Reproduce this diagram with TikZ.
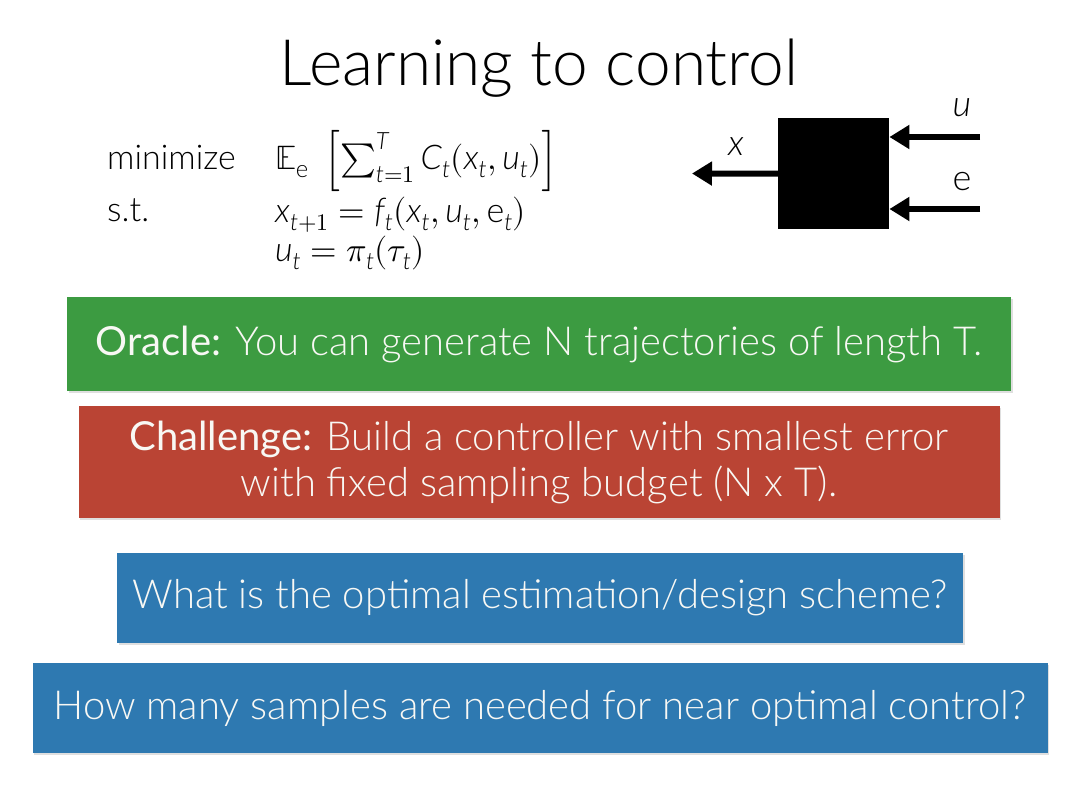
\documentclass[tikz,border=0pt]{standalone}
\usepackage{fontspec}
\usepackage{unicode-math}
\setmainfont{Lato}
\newfontfamily\thinfont{Lato Light}
\setmathfont{Latin Modern Math}
\setmathfont[range={it/{Latin,latin}}]{Lato Light Italic}
\setmathrm{Lato Light}
\usetikzlibrary{positioning,arrows.meta,shadows}

\definecolor{oraclegreen}{RGB}{60,155,65}
\definecolor{challengered}{RGB}{186,68,52}
\definecolor{questionblue}{RGB}{46,121,177}
\definecolor{slidewhite}{RGB}{248,248,244}

\tikzset{
  slidebox/.style={fill=#1, text=slidewhite, inner sep=0pt, align=center,
    drop shadow={shadow xshift=1.5pt, shadow yshift=-1.5pt, opacity=0.25},
    font=\thinfont\fontsize{40}{46}\selectfont},
  formula/.style={anchor=base west, inner sep=0pt, font=\thinfont\fontsize{34}{40}\selectfont},
  wire/.style={line width=6pt, -{Triangle[length=20pt,width=23pt]}},
  pinlabel/.style={inner sep=0pt, font=\thinfont\fontsize{36}{40}\selectfont},
}

\begin{document}
\begin{tikzpicture}[x=1pt, y=-1pt]
	\useasboundingbox (0,0) rectangle (1080,809);

	% title
	\node[inner sep=0pt, anchor=base, font=\thinfont\fontsize{64}{74}\selectfont] (title) at (539,85) {Learning to control};

	% problem statement
	\node[formula] (minlabel) at (107,169) {minimize};
	\node[formula] (stlabel) at (107,221) {s.t.};
	\node[formula] (objective) at (275,169) {$\mathbb{E}_{\mathrm{e}}\; \left[\sum_{t=1}^{T} C_t(x_t,u_t)\right]$};
	\node[formula] (dynamics) at (275,222) {$x_{t+1} = f_t(x_t,u_t,\mathrm{e}_t)$};
	\node[formula] (policy) at (275,261) {$u_t = \pi_t(\tau_t)$};

	% black box system
	\node[fill=black, inner sep=0pt, minimum width=111pt, minimum height=111pt, anchor=north west] (plant) at (778,118) {};
	\coordinate (xout) at (692,173.5);
	\coordinate (uin) at (980,137);
	\coordinate (ein) at (980,209);
	\draw[wire] (plant.west) -- (xout);
	\draw[wire] (uin) -- (uin -| plant.east);
	\draw[wire] (ein) -- (ein -| plant.east);
	\node[pinlabel] (xlabel) at (736,147) {\itshape x};
	\node[pinlabel] (ulabel) at (962,108) {\itshape u};
	\node[pinlabel] (elabel) at (962,182) {e};

	% coloured statements
	\node[slidebox=oraclegreen, minimum width=944pt, minimum height=94pt] (oracle) at (539,344)
		{{\normalfont Oracle:} You can generate N trajectories of length T.};
	\node[slidebox=challengered, minimum width=921pt, minimum height=112pt] (challenge) at (539,462)
		{{\normalfont Challenge:} Build a controller with smallest error\\with fixed sampling budget (N x T).};
	\node[slidebox=questionblue, minimum width=846pt, minimum height=90pt] (design) at (540,598)
		{What is the optimal estimation/design scheme?};
	\node[slidebox=questionblue, minimum width=1015pt, minimum height=90pt] (samples) at (540,708)
		{How many samples are needed for near optimal control?};
\end{tikzpicture}
\end{document}
